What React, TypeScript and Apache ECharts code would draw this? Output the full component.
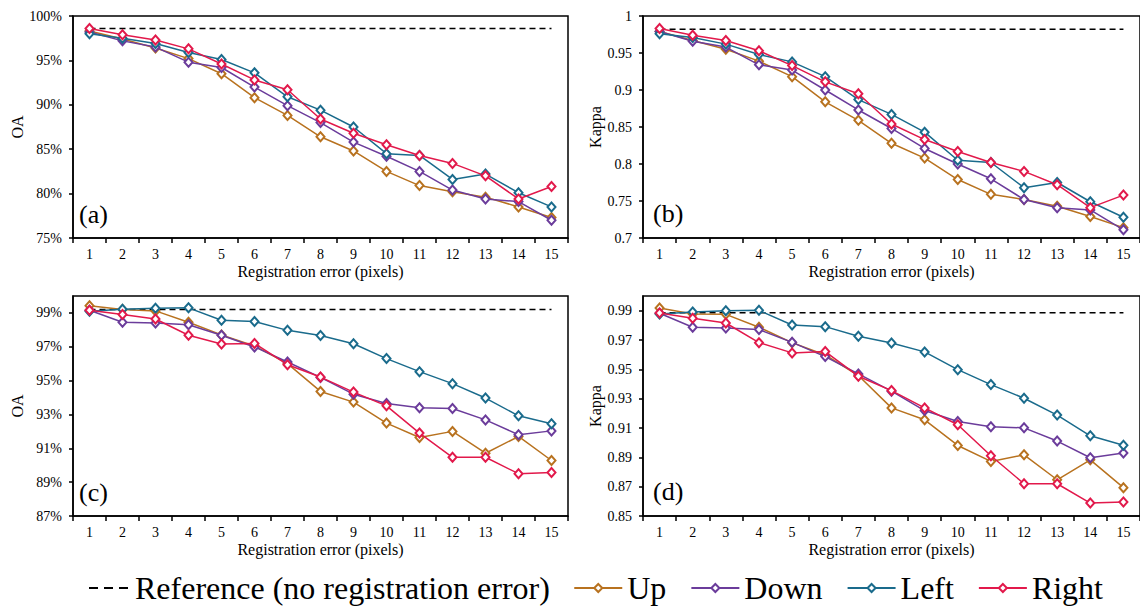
import React, { useEffect, useRef } from "react";
import * as echarts from "echarts";

// Registration error, in pixels (x-axis categories)
const errors = ["1", "2", "3", "4", "5", "6", "7", "8", "9", "10", "11", "12", "13", "14", "15"];

// (a) overall accuracy, %, first dataset
const aUp = [98.3, 97.4, 96.4, 95.2, 93.5, 90.8, 88.8, 86.4, 84.8, 82.5, 80.9, 80.2, 79.6, 78.5, 77.3];
const aDown = [98.2, 97.2, 96.5, 94.8, 94.2, 92.0, 89.9, 88.0, 85.8, 84.2, 82.5, 80.4, 79.4, 79.1, 77.0];
const aLeft = [98.0, 97.5, 96.9, 95.9, 95.1, 93.6, 90.9, 89.4, 87.5, 84.5, 84.3, 81.6, 82.2, 80.1, 78.5];
const aRight = [98.6, 97.9, 97.3, 96.3, 94.6, 92.8, 91.7, 88.4, 86.8, 85.5, 84.3, 83.4, 82.0, 79.4, 80.8];
const aReference = 98.6;

// (b) kappa, first dataset
const bUp = [0.979, 0.967, 0.955, 0.939, 0.918, 0.884, 0.859, 0.828, 0.808, 0.779, 0.759, 0.752, 0.743, 0.729, 0.714];
const bDown = [0.979, 0.966, 0.958, 0.934, 0.927, 0.9, 0.873, 0.848, 0.821, 0.8, 0.78, 0.752, 0.741, 0.738, 0.711];
const bLeft = [0.976, 0.971, 0.962, 0.948, 0.938, 0.918, 0.887, 0.867, 0.843, 0.805, 0.802, 0.768, 0.775, 0.749, 0.728];
const bRight = [0.983, 0.974, 0.967, 0.953, 0.933, 0.911, 0.895, 0.854, 0.833, 0.817, 0.802, 0.79, 0.772, 0.741, 0.758];
const bReference = 0.982;

// (c) overall accuracy, %, second dataset
const cUp = [99.43, 99.2, 99.12, 98.45, 97.7, 97.05, 96.0, 94.36, 93.73, 92.49, 91.64, 92.0, 90.71, 91.7, 90.28];
const cDown = [99.16, 98.45, 98.41, 98.3, 97.68, 96.99, 96.1, 95.19, 94.2, 93.65, 93.4, 93.35, 92.68, 91.8, 92.03];
const cLeft = [99.1, 99.22, 99.28, 99.3, 98.57, 98.49, 97.97, 97.66, 97.18, 96.3, 95.53, 94.82, 93.97, 92.92, 92.45];
const cRight = [99.16, 98.9, 98.64, 97.68, 97.16, 97.2, 95.94, 95.21, 94.32, 93.51, 91.9, 90.47, 90.47, 89.5, 89.57];
const cReference = 99.2;
const cTicks = [87, 89, 91, 93, 95, 97, 99];

// (d) kappa, second dataset
const dUp = [0.9918, 0.9877, 0.9875, 0.9787, 0.9682, 0.9598, 0.9458, 0.9237, 0.9156, 0.8981, 0.8872, 0.8917, 0.8747, 0.8883, 0.8693];
const dDown = [0.9882, 0.9787, 0.9782, 0.9771, 0.9684, 0.9587, 0.9469, 0.9351, 0.9219, 0.9144, 0.9108, 0.9101, 0.9011, 0.8897, 0.8929];
const dLeft = [0.9877, 0.9891, 0.99, 0.9902, 0.9802, 0.9791, 0.9725, 0.968, 0.9619, 0.9498, 0.9396, 0.9303, 0.9188, 0.9047, 0.8983];
const dRight = [0.9884, 0.9848, 0.9816, 0.9682, 0.9612, 0.9621, 0.9453, 0.9355, 0.9237, 0.9122, 0.8911, 0.872, 0.872, 0.8588, 0.8595];
const dReference = 0.9885;
const dTicks = [0.85, 0.87, 0.89, 0.91, 0.93, 0.95, 0.97, 0.99];

const directions = ["Up", "Down", "Left", "Right"];
const REF_NAME = "Reference (no registration error)";

const SERIF = "Liberation Serif";
const COLORS: Record<string, string> = {
  Up: "#b8721f",
  Down: "#6b3c9b",
  Left: "#1a6b8c",
  Right: "#e2194b",
};

type Panel = {
  tag: string;
  yName: string;
  values: number[][];
  reference: number;
  min: number;
  max: number;
  interval?: number;
  ticks?: number[];
  percent: boolean;
  grid: { left: number; top: number; width: number; height: number };
  tagPos: [number, number];
};

const panels: Panel[] = [
  {
    tag: "(a)", yName: "OA", values: [aUp, aDown, aLeft, aRight], reference: aReference,
    min: 75, max: 100, interval: 5, percent: true,
    grid: { left: 73, top: 16, width: 495, height: 222 }, tagPos: [79, 216],
  },
  {
    tag: "(b)", yName: "Kappa", values: [bUp, bDown, bLeft, bRight], reference: bReference,
    min: 0.7, max: 1, interval: 0.05, percent: false,
    grid: { left: 643, top: 16, width: 500, height: 222 }, tagPos: [653, 215],
  },
  {
    tag: "(c)", yName: "OA", values: [cUp, cDown, cLeft, cRight], reference: cReference,
    min: 87, max: 100, ticks: cTicks, percent: true,
    grid: { left: 73, top: 296, width: 495, height: 220 }, tagPos: [79, 494],
  },
  {
    tag: "(d)", yName: "Kappa", values: [dUp, dDown, dLeft, dRight], reference: dReference,
    min: 0.85, max: 1, ticks: dTicks, percent: false,
    grid: { left: 643, top: 296, width: 500, height: 220 }, tagPos: [653, 493],
  },
];

function buildOption() {
  const grids: any[] = [];
  const xAxes: any[] = [];
  const yAxes: any[] = [];
  const series: any[] = [];
  const graphics: any[] = [];

  panels.forEach((p, i) => {
    grids.push({
      ...p.grid,
      show: true,
      borderColor: "#000",
      borderWidth: 1.5,
      backgroundColor: "transparent",
    });

    xAxes.push({
      type: "category",
      gridIndex: i,
      data: errors,
      boundaryGap: true,
      name: "Registration error (pixels)",
      nameLocation: "middle",
      nameGap: 25,
      nameTextStyle: { fontFamily: SERIF, fontSize: 16, color: "#000" },
      axisLine: { lineStyle: { color: "#000", width: 1.5 } },
      axisTick: { show: true, inside: false, length: 5, lineStyle: { color: "#000", width: 1.5 } },
      axisLabel: { fontFamily: SERIF, fontSize: 14, color: "#000", margin: 9 },
      splitLine: { show: false },
    });

    const fmt = (v: number) => (p.percent ? `${v}%` : `${v}`);
    const yAxis: any = {
      type: "value",
      gridIndex: i,
      min: p.min,
      max: p.max,
      name: p.yName,
      nameLocation: "middle",
      nameGap: p.yName === "OA" ? 48 : 40,
      nameTextStyle: { fontFamily: SERIF, fontSize: 16, color: "#000" },
      axisLine: { show: true, lineStyle: { color: "#000", width: 1.5 } },
      axisTick: { show: true, inside: false, length: 4, lineStyle: { color: "#000", width: 1.5 } },
      axisLabel: { fontFamily: SERIF, fontSize: 14, color: "#000", margin: 11, formatter: fmt },
      splitLine: { show: false },
    };
    if (p.interval !== undefined) yAxis.interval = p.interval;
    if (p.ticks) {
      yAxis.axisLabel.customValues = p.ticks;
      yAxis.axisTick.customValues = p.ticks;
    }
    yAxes.push(yAxis);

    // dashed reference level, drawn from the first to the last category
    series.push({
      name: REF_NAME,
      type: "line",
      xAxisIndex: i,
      yAxisIndex: i,
      data: [
        [errors[0], p.reference],
        [errors[errors.length - 1], p.reference],
      ],
      symbol: "none",
      lineStyle: { color: "#000", width: 1.5, type: [6, 4] },
      itemStyle: { color: "#000" },
      silent: true,
      z: 1,
    });

    directions.forEach((d, k) => {
      series.push({
        name: d,
        type: "line",
        xAxisIndex: i,
        yAxisIndex: i,
        data: p.values[k],
        symbol: "emptyDiamond",
        symbolSize: [8, 9],
        showAllSymbol: true,
        lineStyle: { color: COLORS[d], width: 1.5 },
        itemStyle: { color: COLORS[d], borderColor: COLORS[d], borderWidth: 1.5 },
        silent: true,
        z: 2 + k,
      });
    });

    graphics.push({
      type: "text",
      left: p.tagPos[0],
      top: p.tagPos[1] - 15,
      style: { text: p.tag, fontFamily: SERIF, fontSize: 26, fill: "#000" },
      z: 10,
    });
  });

  return {
    animation: false,
    backgroundColor: "#fff",
    textStyle: { fontFamily: SERIF },
    grid: grids,
    xAxis: xAxes,
    yAxis: yAxes,
    series,
    graphic: graphics,
    legend: [
      {
        left: 83,
        top: 567,
        itemWidth: 41,
        itemHeight: 10,
        selectedMode: false,
        textStyle: { fontFamily: SERIF, fontSize: 32, color: "#000" },
        data: [{ name: REF_NAME, lineStyle: { type: [9, 6], width: 2 }, itemStyle: { opacity: 0 } }],
      },
      {
        right: 32,
        top: 567,
        itemWidth: 48,
        itemHeight: 10,
        itemGap: 24,
        selectedMode: false,
        textStyle: { fontFamily: SERIF, fontSize: 32, color: "#000" },
        data: directions,
      },
    ],
  };
}

export default function App() {
  const ref = useRef<HTMLDivElement>(null);

  useEffect(() => {
    if (!ref.current) return;
    const chart = echarts.init(ref.current, undefined, { renderer: "svg" });
    chart.setOption(buildOption() as any);
    return () => chart.dispose();
  }, []);

  return (
    <div
      ref={ref}
      style={{ position: "fixed", left: 0, top: 0, width: 1140, height: 607, background: "#fff" }}
    />
  );
}
